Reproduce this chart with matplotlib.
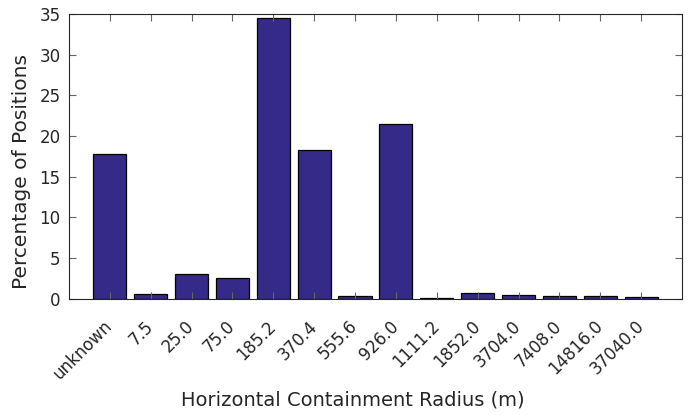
import numpy as np
import matplotlib
matplotlib.use("Agg")
import matplotlib.pyplot as plt

categories = ['unknown', '7.5', '25.0', '75.0', '185.2', '370.4', '555.6', '926.0',
              '1111.2', '1852.0', '3704.0', '7408.0', '14816.0', '37040.0']
percentages = [17.8, 0.55, 3.0, 2.55, 34.5, 18.25, 0.3, 21.5,
               0.05, 0.7, 0.4, 0.27, 0.25, 0.15]

plt.rcParams['font.family'] = ['DejaVu Sans']
text_col = '#262626'

fig = plt.figure(figsize=(6.89, 4.15), dpi=100)
ax = fig.add_axes([0.1001, 0.2807, 0.8897, 0.6853])

x = np.arange(1, len(categories) + 1)
ax.bar(x, percentages, width=0.81, color='#352a87', edgecolor='black', linewidth=0.9)

ax.set_xlim(0, len(categories) + 1)
ax.set_ylim(0, 35)
ax.set_xticks(x)
ax.set_xticklabels(categories, rotation=45, ha='right', va='center',
                   rotation_mode='anchor')
ax.set_yticks(np.arange(0, 36, 5))

ax.tick_params(direction='in', top=True, right=True, length=5, width=0.8,
               color='#666666', labelsize=12, labelcolor=text_col)
ax.tick_params(axis='x', pad=18)
ax.tick_params(axis='y', pad=6)
for s in ax.spines.values():
    s.set_linewidth(0.8)
    s.set_color('#262626')

ax.set_xlabel('Horizontal Containment Radius (m)', fontsize=14, color=text_col)
ax.set_ylabel('Percentage of Positions', fontsize=14.5, color=text_col)
ax.xaxis.set_label_coords(0.463, -0.325)
ax.yaxis.set_label_coords(-0.062, 0.446)

fig.savefig('out.png', dpi=100)
